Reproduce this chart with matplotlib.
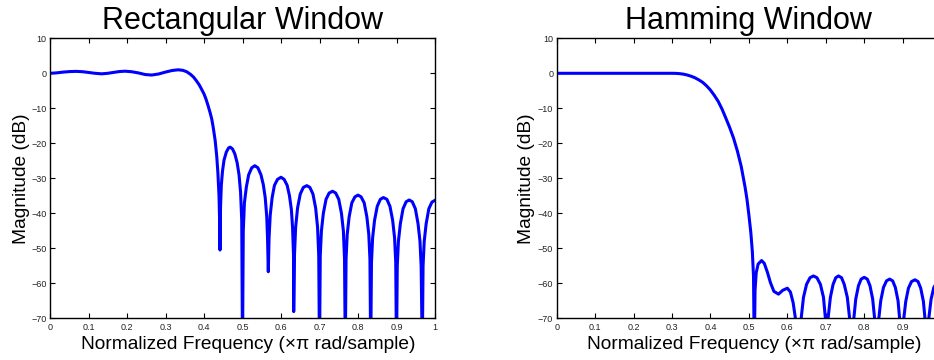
import matplotlib
matplotlib.use("Agg")
import matplotlib.pyplot as plt

plt.rcParams['font.family'] = ['Liberation Sans', 'DejaVu Sans']

# Rectangular window response (normalized frequency, dB)
rect_f = [0.000, 0.017, 0.035, 0.052, 0.069, 0.085, 0.100, 0.117, 0.134, 0.150,
          0.165, 0.180, 0.195, 0.212, 0.230, 0.247, 0.264, 0.282, 0.300, 0.317,
          0.333, 0.345, 0.355, 0.365, 0.373, 0.380, 0.387, 0.393, 0.400, 0.405,
          0.411, 0.416, 0.420, 0.424, 0.429, 0.433, 0.436, 0.439, 0.4405, 0.4416,
          0.443, 0.445, 0.448, 0.452, 0.458, 0.464, 0.468, 0.474, 0.480, 0.486,
          0.491, 0.495, 0.498, 0.500,
          0.502, 0.505, 0.510, 0.516, 0.524, 0.532, 0.540, 0.548, 0.554, 0.559,
          0.563, 0.565, 0.567,
          0.569, 0.572, 0.577, 0.583, 0.591, 0.600, 0.608, 0.616, 0.622, 0.627,
          0.630, 0.6325, 0.633,
          0.635, 0.638, 0.643, 0.650, 0.658, 0.667, 0.675, 0.683, 0.690, 0.695,
          0.698, 0.700,
          0.702, 0.705, 0.710, 0.717, 0.725, 0.734, 0.742, 0.750, 0.757, 0.762,
          0.765, 0.767,
          0.769, 0.772, 0.777, 0.784, 0.792, 0.800, 0.808, 0.816, 0.823, 0.828,
          0.831, 0.833,
          0.835, 0.838, 0.843, 0.850, 0.858, 0.866, 0.875, 0.883, 0.890, 0.895,
          0.898, 0.900,
          0.902, 0.905, 0.910, 0.917, 0.925, 0.933, 0.941, 0.949, 0.956, 0.961,
          0.964, 0.967,
          0.969, 0.972, 0.977, 0.984, 0.992, 1.000]
rect_db = [0.0, 0.12, 0.35, 0.50, 0.55, 0.45, 0.25, 0.0, -0.15, 0.0,
           0.25, 0.50, 0.60, 0.45, 0.10, -0.35, -0.50, -0.20, 0.35, 0.80,
           1.0, 0.85, 0.45, -0.3, -1.1, -2.1, -3.2, -4.4, -5.9, -7.3,
           -9.4, -11.3, -13.0, -15.5, -19.2, -23.6, -28.3, -35.0, -42.0, -50.5,
           -38.0, -32.0, -28.0, -24.8, -22.5, -21.3, -21.1, -21.6, -23.0, -25.5,
           -29.0, -34.0, -42.0, -80.0,
           -45.0, -37.0, -32.5, -29.0, -27.0, -26.4, -27.0, -29.0, -31.8, -35.5,
           -41.0, -47.0, -56.7,
           -47.0, -40.5, -35.5, -32.0, -30.3, -29.7, -30.3, -32.0, -35.0, -39.0,
           -44.0, -52.0, -68.1,
           -52.0, -44.0, -38.5, -34.5, -32.6, -32.1, -32.6, -34.5, -38.5, -44.0,
           -52.0, -80.0,
           -52.0, -45.0, -40.0, -36.0, -34.2, -33.7, -34.2, -36.0, -40.0, -45.0,
           -53.0, -80.0,
           -53.0, -46.0, -41.0, -37.0, -35.3, -34.8, -35.3, -37.0, -41.0, -46.0,
           -53.0, -80.0,
           -54.0, -47.0, -42.0, -38.0, -36.0, -35.5, -36.0, -38.0, -42.0, -47.0,
           -54.0, -80.0,
           -55.0, -48.0, -43.0, -38.7, -36.7, -36.2, -36.7, -38.7, -43.0, -48.0,
           -55.0, -80.0,
           -55.0, -48.0, -43.0, -38.7, -36.8, -36.3]

# Hamming window response (normalized frequency, dB)
hamm_f = [0.000, 0.100, 0.200, 0.300, 0.310, 0.320, 0.330, 0.340, 0.350, 0.360,
          0.370, 0.380, 0.390, 0.400, 0.410, 0.420, 0.430, 0.440, 0.450, 0.460,
          0.470, 0.480, 0.490, 0.495, 0.500, 0.505, 0.509, 0.512, 0.514,
          0.516, 0.519, 0.524, 0.533, 0.540, 0.548, 0.556, 0.565, 0.577, 0.588,
          0.600, 0.608, 0.615, 0.621, 0.629,
          0.636, 0.642, 0.650, 0.659, 0.668, 0.677, 0.686, 0.694, 0.699, 0.702,
          0.706, 0.712, 0.719, 0.726, 0.733, 0.741, 0.748, 0.756, 0.762, 0.767,
          0.773, 0.778, 0.785, 0.792, 0.800, 0.808, 0.815, 0.822, 0.827, 0.832,
          0.838, 0.843, 0.850, 0.858, 0.866, 0.874, 0.881, 0.888, 0.892, 0.897,
          0.903, 0.908, 0.915, 0.923, 0.932, 0.940, 0.947, 0.954, 0.958, 0.962,
          0.968, 0.974, 0.981, 0.990, 1.000]
hamm_db = [0.0, 0.0, 0.0, 0.0, -0.02, -0.1, -0.25, -0.5, -0.85, -1.3,
           -1.9, -2.6, -3.6, -4.8, -6.3, -8.0, -10.2, -12.8, -15.5, -18.5,
           -22.2, -26.6, -32.5, -36.0, -40.5, -45.5, -51.0, -58.0, -80.0,
           -62.0, -57.0, -54.5, -53.5, -54.3, -56.8, -59.8, -62.3, -63.1, -62.0,
           -61.4, -62.5, -65.5, -70.0, -80.0,
           -70.0, -64.0, -60.3, -58.4, -57.9, -58.4, -60.3, -64.0, -70.0, -80.0,
           -70.0, -64.0, -60.3, -58.4, -57.9, -58.4, -60.3, -64.0, -70.0, -80.0,
           -70.0, -64.5, -60.7, -58.8, -58.3, -58.8, -60.7, -64.5, -70.0, -80.0,
           -70.0, -65.0, -61.2, -59.3, -58.8, -59.3, -61.2, -65.0, -70.0, -80.0,
           -70.0, -65.2, -61.4, -59.5, -59.0, -59.5, -61.4, -65.2, -70.0, -80.0,
           -70.0, -64.5, -61.2, -59.6, -59.2]

titles = ["Rectangular Window", "Hamming Window"]
xticks = [0, 0.1, 0.2, 0.3, 0.4, 0.5, 0.6, 0.7, 0.8, 0.9, 1]
xticklabels = ["0", "0.1", "0.2", "0.3", "0.4", "0.5", "0.6", "0.7", "0.8", "0.9", "1"]
yticks = [-70, -60, -50, -40, -30, -20, -10, 0, 10]
yticklabels = ["\u221270", "\u221260", "\u221250", "\u221240", "\u221230", "\u221220", "\u221210", "0", "10"]

W, H = 934, 360
fig = plt.figure(figsize=(W / 100, H / 100), dpi=100)

axes_px = [(50, 38.3, 385, 26), (556.7, 38.3, 384.4, 531)]
ax_h = 280
series = [(rect_f, rect_db), (hamm_f, hamm_db)]

for i, ((x0, y0, w, ylab_x), (f, db), title) in enumerate(zip(axes_px, series, titles)):
    ax = fig.add_axes([x0 / W, (H - y0 - ax_h) / H, w / W, ax_h / H])
    ax.plot(f, db, color=(0, 0, 1), lw=2.2, solid_joinstyle='round')
    ax.set_xlim(0, 1)
    ax.set_ylim(-70, 10)
    ax.set_xticks(xticks)
    labels = list(xticklabels)
    if i == 1:
        labels[-1] = ""  # falls outside the visible figure area
    ax.set_xticklabels(labels)
    ax.set_yticks(yticks)
    ax.set_yticklabels(yticklabels)
    ax.tick_params(direction='in', length=3.5, width=0.8, top=True, right=True,
                   labelsize=6.5, colors='black', labelcolor='#222222')
    ax.tick_params(axis='x', pad=3.5)
    ax.tick_params(axis='y', pad=2.5)
    for s in ax.spines.values():
        s.set_linewidth(1.0)
    ax.set_title(title, fontsize=22, pad=6.5)
    ax.set_xlabel("Normalized Frequency (\u00d7\u03c0 rad/sample)", fontsize=13.8)
    ax.xaxis.label.set_verticalalignment('baseline')
    ax.xaxis.set_label_coords(0.5 + 5.5 / w, -(349.3 - (y0 + ax_h)) / ax_h)
    ax.set_ylabel("Magnitude (dB)", fontsize=13.8)
    ax.yaxis.label.set_verticalalignment('baseline')
    ax.yaxis.set_label_coords((ylab_x - x0) / w, 0.5)

fig.savefig("out.png", dpi=100)
